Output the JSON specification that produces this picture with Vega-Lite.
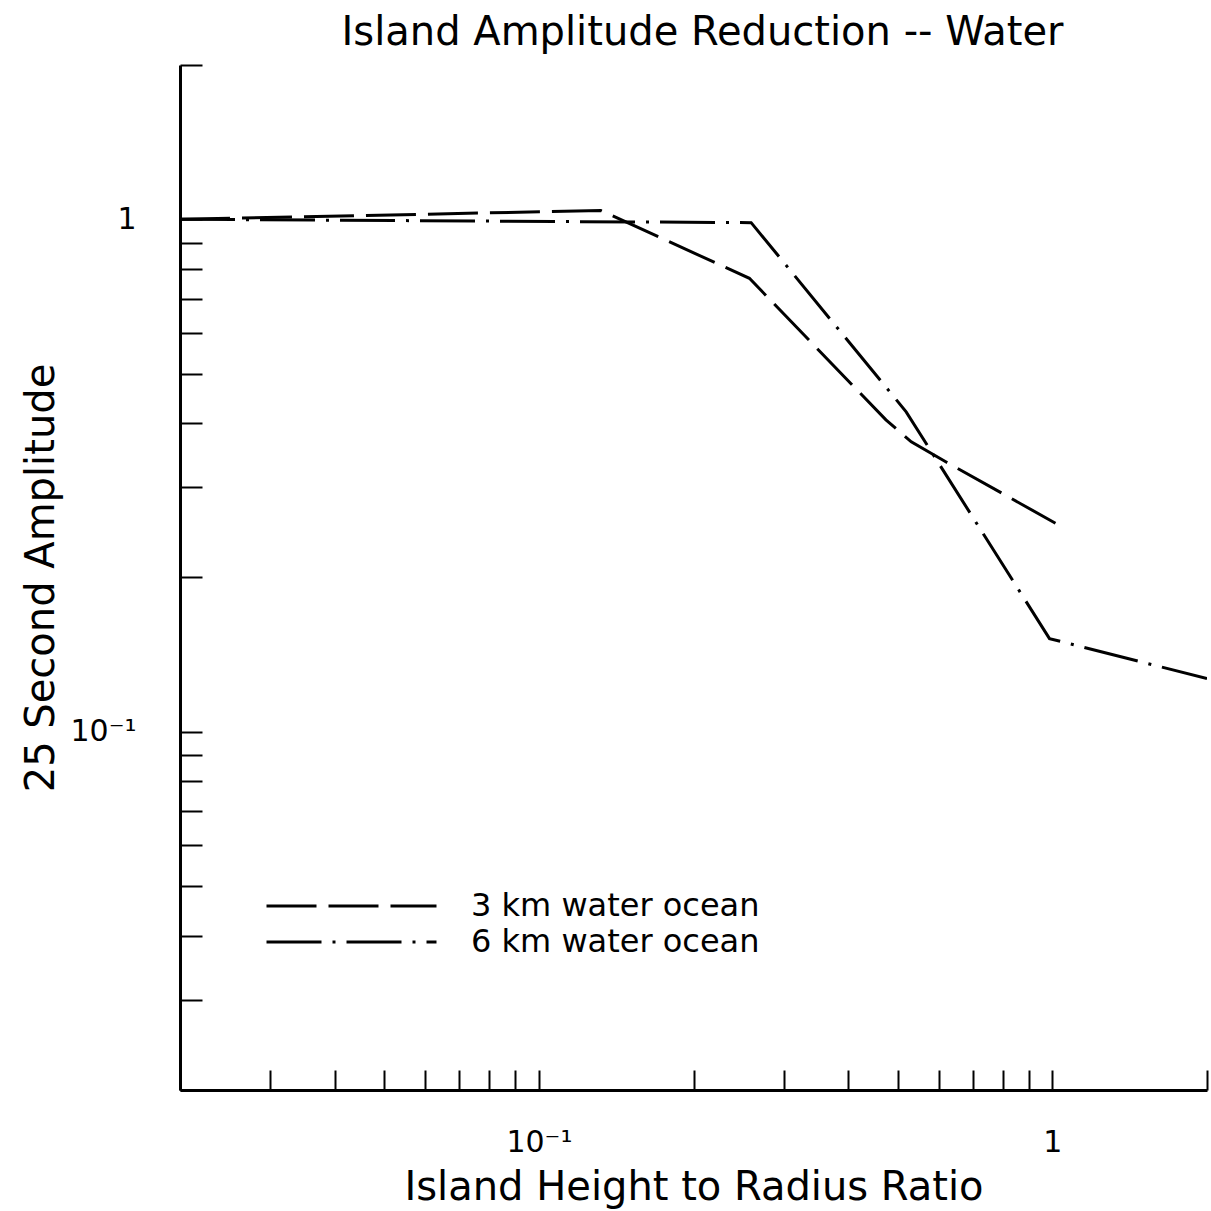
{
  "$schema": "https://vega.github.io/schema/vega-lite/v6.json",
  "width": 1027,
  "height": 1025,
  "autosize": {"type": "none"},
  "padding": {"left": 180, "top": 65, "right": 4, "bottom": 121},
  "background": "white",
  "config": {"view": {"stroke": null}, "font": "DejaVu Sans"},
  "title": {"text": "Island Amplitude Reduction -- Water", "fontSize": 40, "fontWeight": "normal", "font": "DejaVu Sans", "color": "black", "offset": -3, "dx": 9, "anchor": "middle"},
  "data": {"values": [
    {"series": "3 km water ocean", "ratio": 0.02, "amp": 1.0},
    {"series": "3 km water ocean", "ratio": 0.132, "amp": 1.04},
    {"series": "3 km water ocean", "ratio": 0.257, "amp": 0.767},
    {"series": "3 km water ocean", "ratio": 0.474, "amp": 0.406},
    {"series": "3 km water ocean", "ratio": 0.531, "amp": 0.368},
    {"series": "3 km water ocean", "ratio": 0.621, "amp": 0.336},
    {"series": "3 km water ocean", "ratio": 1.03, "amp": 0.253},
    {"series": "6 km water ocean", "ratio": 0.02, "amp": 1.0},
    {"series": "6 km water ocean", "ratio": 0.259, "amp": 0.985},
    {"series": "6 km water ocean", "ratio": 0.519, "amp": 0.421},
    {"series": "6 km water ocean", "ratio": 0.987, "amp": 0.152},
    {"series": "6 km water ocean", "ratio": 2.0, "amp": 0.127}
  ]},
  "mark": {"type": "line", "strokeWidth": 3, "color": "black", "clip": true},
  "encoding": {
    "x": {
      "field": "ratio", "type": "quantitative",
      "scale": {"type": "log", "domain": [0.02, 2], "nice": false},
      "axis": {
        "title": "Island Height to Radius Ratio",
        "values": [0.02, 0.03, 0.04, 0.05, 0.06, 0.07, 0.08, 0.09, 0.1, 0.2, 0.3, 0.4, 0.5, 0.6, 0.7, 0.8, 0.9, 1, 2],
        "labelExpr": "datum.value == 1 ? '1' : (abs(datum.value - 0.1) < 1e-9 ? '10⁻¹' : '')",
        "tickSize": -20, "tickWidth": 2, "tickColor": "black",
        "domainColor": "black", "domainWidth": 3,
        "labelFontSize": 30, "labelColor": "black", "labelPadding": 57,
        "titleFontSize": 40, "titleFontWeight": "normal", "titleColor": "black", "titlePadding": 10,
        "grid": false, "labelOverlap": false, "labelFlush": false, "labelBound": false
      }
    },
    "y": {
      "field": "amp", "type": "quantitative",
      "scale": {"type": "log", "domain": [0.02, 2], "nice": false},
      "axis": {
        "title": "25 Second Amplitude",
        "values": [0.02, 0.03, 0.04, 0.05, 0.06, 0.07, 0.08, 0.09, 0.1, 0.2, 0.3, 0.4, 0.5, 0.6, 0.7, 0.8, 0.9, 1, 2],
        "labelExpr": "datum.value == 1 ? '1' : (abs(datum.value - 0.1) < 1e-9 ? '10⁻¹' : '')",
        "tickSize": -22, "tickWidth": 2, "tickColor": "black",
        "domainColor": "black", "domainWidth": 3,
        "labelFontSize": 30, "labelColor": "black", "labelPadding": 66,
        "titleFontSize": 40, "titleFontWeight": "normal", "titleColor": "black", "titlePadding": 8,
        "grid": false, "labelOverlap": false, "labelFlush": false, "labelBound": false
      }
    },
    "strokeDash": {
      "field": "series", "type": "nominal",
      "scale": {"domain": ["3 km water ocean", "6 km water ocean"], "range": [[50, 12], [55, 11, 3, 11]]},
      "legend": {
        "title": null, "orient": "none", "legendX": 85, "legendY": 823,
        "symbolType": "stroke", "symbolSize": 28900, "symbolStrokeWidth": 3, "symbolStrokeColor": "black",
        "clipHeight": 36, "labelFontSize": 32, "labelColor": "black", "labelOffset": 33, "labelLimit": 600,
        "padding": 0, "rowPadding": 0, "labelFont": "DejaVu Sans"
      }
    }
  }
}
